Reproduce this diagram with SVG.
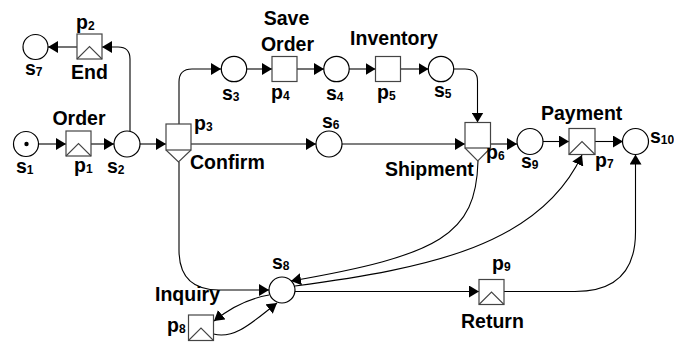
<svg xmlns="http://www.w3.org/2000/svg" width="674" height="343" viewBox="0 0 674 343">
<defs>
<style>
.pl{fill:#fff;stroke:#000;stroke-width:1.2}
.tr{fill:#fff;stroke:#444;stroke-width:1.2}
.ic{fill:none;stroke:#444;stroke-width:1.1}
.c{fill:none;stroke:#000;stroke-width:1.1;marker-end:url(#ah)}
.t{font-family:"Liberation Sans",Arial,sans-serif;font-weight:bold;font-size:19.5px;fill:#000}
.sb{font-size:12px}
</style>
<marker id="ah" viewBox="0 0 10 12" refX="10" refY="6" markerWidth="10" markerHeight="12" orient="auto" markerUnits="userSpaceOnUse"><path d="M0,0 L10,6 L0,12 z" fill="#000"/></marker>
</defs>
<rect width="674" height="343" fill="#fff"/>
<g id="connectors">
<path class="c" d="M38.5,144 H66"/>
<path class="c" d="M91,144 H114"/>
<path class="c" d="M140,144 H166"/>
<path class="c" d="M130,132 V59 Q130,47 118,47 H102"/>
<path class="c" d="M77,47 H48"/>
<path class="c" d="M179,124 V82 Q179,69 192,69 H221"/>
<path class="c" d="M247,69 H272"/>
<path class="c" d="M297,69 H324"/>
<path class="c" d="M349,69 H375.5"/>
<path class="c" d="M400.5,69 H428.5"/>
<path class="c" d="M454,69 H465 Q477.5,69 477.5,81 V122.5"/>
<path class="c" d="M191,144 H316"/>
<path class="c" d="M342,144 H465"/>
<path class="c" d="M490.5,144 H517"/>
<path class="c" d="M543,141.5 H569"/>
<path class="c" d="M595,141.5 H623"/>
<path class="c" d="M179,162 V250 Q179,290 219,290 H269"/>
<path class="c" d="M478,161 C476,235 440,255 291,281"/>
<path class="c" d="M295,286 C430,268 540,245 582,155"/>
<path class="c" d="M269,295 Q240,300 214,321"/>
<path class="c" d="M213.5,334 C235,340 255,320 277,303"/>
<path class="c" d="M295,291.5 H479"/>
<path class="c" d="M504,291.5 H575 C615,291.5 635.5,272 635.5,232 V154.5"/>
</g>
<g id="s1"><circle class="pl" cx="26" cy="144" r="12.5"/><circle cx="26.5" cy="144" r="2.2" fill="#000"/><text class="t" x="16" y="173">s<tspan class="sb" dy="1">1</tspan></text></g>
<g id="p1"><rect class="tr" x="66" y="131" width="25" height="25"/><path class="ic" d="M66,156 L78.5,143.5 L91,156"/><text class="t" x="74" y="172">p<tspan class="sb" dy="1">1</tspan></text><text class="t" x="79" y="125" text-anchor="middle">Order</text></g>
<g id="s2"><circle class="pl" cx="127" cy="144" r="13"/><text class="t" x="107" y="173">s<tspan class="sb" dy="1">2</tspan></text></g>
<g id="p2"><rect class="tr" x="77" y="34" width="25" height="25"/><path class="ic" d="M77,59 L89.5,46.5 L102,59"/><text class="t" x="76" y="29">p<tspan class="sb" dy="1">2</tspan></text><text class="t" x="89.5" y="79" text-anchor="middle">End</text></g>
<g id="s7"><circle class="pl" cx="35.5" cy="47" r="12.5"/><text class="t" x="25" y="75">s<tspan class="sb" dy="1">7</tspan></text></g>
<g id="p3"><rect class="tr" x="166" y="124" width="25" height="26"/><path class="ic" d="M166,150 L178.5,162 L191,150"/><text class="t" x="194" y="130">p<tspan class="sb" dy="1">3</tspan></text><text class="t" x="190" y="169">Confirm</text></g>
<g id="s3"><circle class="pl" cx="234" cy="69" r="12.7"/><text class="t" x="222" y="100">s<tspan class="sb" dy="1">3</tspan></text></g>
<g id="p4"><rect class="tr" x="272" y="56.5" width="25" height="25"/><text class="t" x="271" y="99">p<tspan class="sb" dy="1">4</tspan></text><text class="t" x="286.5" y="25" text-anchor="middle">Save</text><text class="t" x="287.5" y="51" text-anchor="middle">Order</text></g>
<g id="s4"><circle class="pl" cx="336.5" cy="69" r="12.7"/><text class="t" x="326" y="100">s<tspan class="sb" dy="1">4</tspan></text></g>
<g id="p5"><rect class="tr" x="375.5" y="56.5" width="25" height="25"/><text class="t" x="377" y="99">p<tspan class="sb" dy="1">5</tspan></text><text class="t" x="394" y="45" text-anchor="middle">Inventory</text></g>
<g id="s5"><circle class="pl" cx="441" cy="69" r="12.7"/><text class="t" x="434" y="97">s<tspan class="sb" dy="1">5</tspan></text></g>
<g id="s6"><circle class="pl" cx="329" cy="144" r="13"/><text class="t" x="322" y="128">s<tspan class="sb" dy="1">6</tspan></text></g>
<g id="p6"><rect class="tr" x="465" y="122.5" width="25.5" height="25.5"/><path class="ic" d="M465,148 L477.8,161 L490.5,148"/><text class="t" x="486" y="159">p<tspan class="sb" dy="1">6</tspan></text><text class="t" x="385" y="176">Shipment</text></g>
<g id="s9"><circle class="pl" cx="530" cy="141.5" r="13"/><text class="t" x="521" y="168">s<tspan class="sb" dy="1">9</tspan></text></g>
<g id="p7"><rect class="tr" x="569" y="128.5" width="26" height="26"/><path class="ic" d="M569,154.5 L582,141.5 L595,154.5"/><text class="t" x="595" y="167">p<tspan class="sb" dy="1">7</tspan></text><text class="t" x="541" y="120">Payment</text></g>
<g id="s10"><circle class="pl" cx="635.5" cy="141.5" r="13"/><text class="t" x="650" y="143">s<tspan class="sb" dy="1">10</tspan></text></g>
<g id="s8"><circle class="pl" cx="282" cy="290" r="13"/><text class="t" x="272" y="269">s<tspan class="sb" dy="1">8</tspan></text></g>
<g id="p8"><rect class="tr" x="188.5" y="315" width="25" height="25.5"/><path class="ic" d="M188.5,340.5 L201,328 L213.5,340.5"/><text class="t" x="167" y="332">p<tspan class="sb" dy="1">8</tspan></text><text class="t" x="155" y="301">Inquiry</text></g>
<g id="p9"><rect class="tr" x="479" y="279.5" width="25" height="25"/><path class="ic" d="M479,304.5 L491.5,292 L504,304.5"/><text class="t" x="492" y="270">p<tspan class="sb" dy="1">9</tspan></text><text class="t" x="461" y="328">Return</text></g>
</svg>
